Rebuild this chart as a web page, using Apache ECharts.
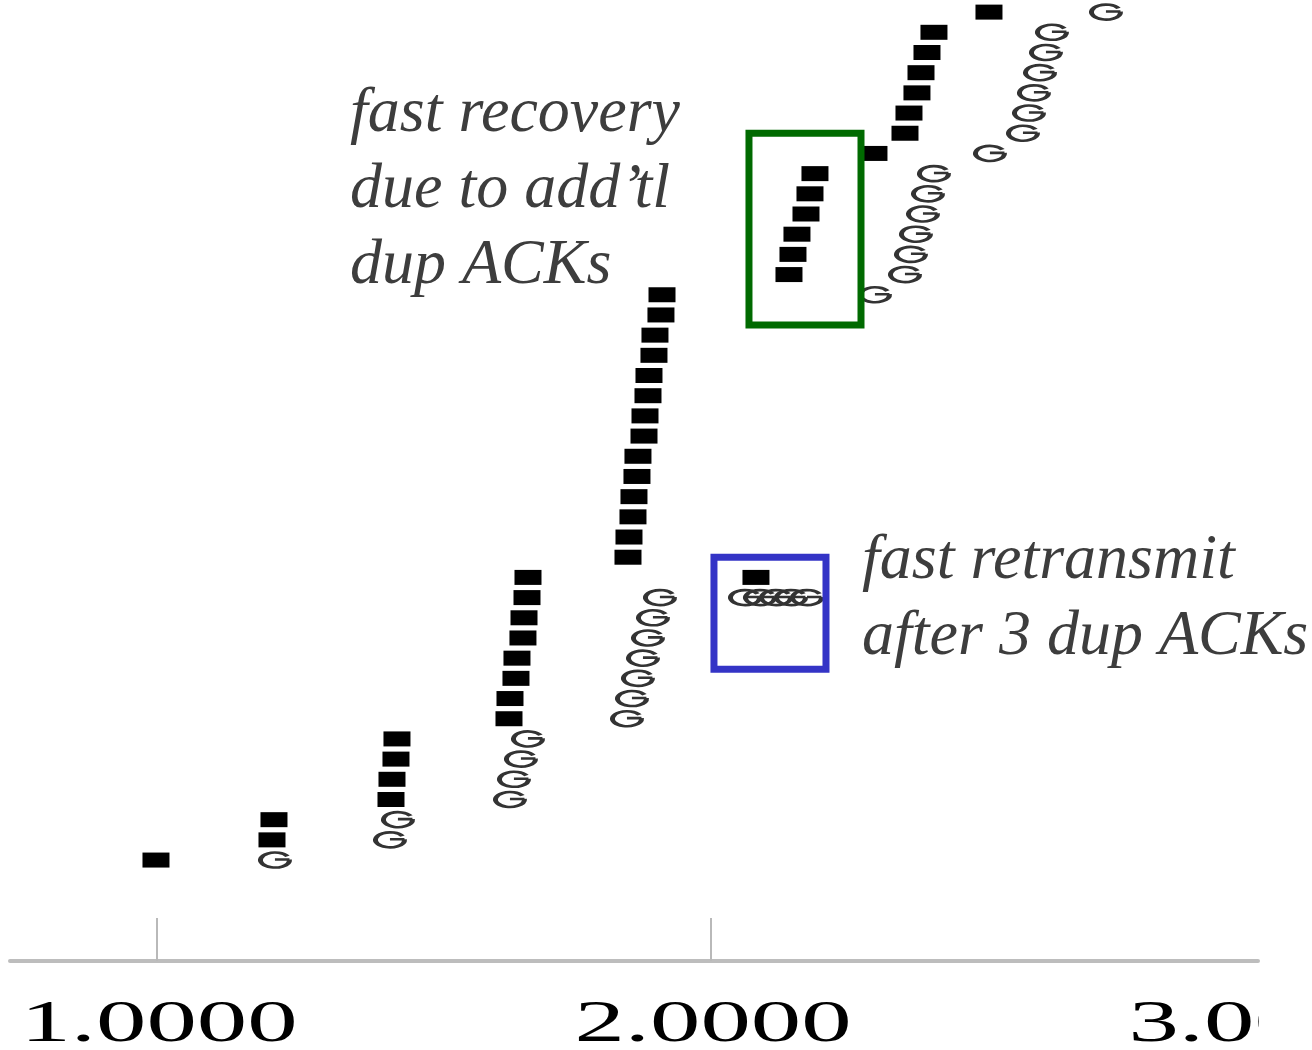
<!DOCTYPE html>
<html>
<head>
<meta charset="utf-8">
<title>fast retransmit / fast recovery</title>
<script src="https://cdn.jsdelivr.net/npm/echarts@6/dist/echarts.min.js"></script>
<style>
  html, body { margin: 0; padding: 0; background: #fff; }
  #trace { width: 1312px; height: 1050px; }
</style>
</head>
<body>
<div id="trace"></div>
<script>
/* jshint esversion: 6 */

// =====================================================================================================================
// Data segments sent (time in s, sequence number in segments)
let segTime = [
  0.9982,
  1.2076, 1.2112,
  1.4224, 1.4242, 1.4314, 1.4332,
  1.6354, 1.6372, 1.6480, 1.6498, 1.6606, 1.6625, 1.6679, 1.6697,
  1.8502, 1.8520, 1.8592, 1.8610, 1.8664, 1.8682, 1.8791, 1.8809, 1.8863, 1.8881, 1.8971, 1.8989, 1.9097, 1.9116,
  2.0812,
  2.1408, 2.1480, 2.1552, 2.1715, 2.1787, 2.1877,
  2.2942, 2.3502, 2.3574, 2.3718, 2.3791, 2.3899, 2.4025,
  2.5018
];
let segSeq = [
  1,
  2, 3,
  4, 5, 6, 7,
  8, 9, 10, 11, 12, 13, 14, 15,
  16, 17, 18, 19, 20, 21, 22, 23, 24, 25, 26, 27, 28, 29,
  15,
  30, 31, 32, 33, 34, 35,
  36, 37, 38, 39, 40, 41, 42,
  43
];

// ACKs received
let ackTime = [
  1.2130,
  1.4206, 1.4350,
  1.6372, 1.6444, 1.6570, 1.6697,
  1.8484, 1.8574, 1.8682, 1.8773, 1.8863, 1.8953, 1.9079,
  2.0614, 2.0884, 2.1173, 2.1444, 2.1733,
  2.2960,
  2.3502, 2.3610, 2.3700, 2.3827, 2.3917, 2.4025,
  2.5036, 2.5632, 2.5740, 2.5830, 2.5939, 2.6047, 2.6155,
  2.7130
];
let ackSeq = [
  1,
  2, 3,
  4, 5, 6, 7,
  8, 9, 10, 11, 12, 13, 14,
  14, 14, 14, 14, 14,
  29,
  30, 31, 32, 33, 34, 35,
  36, 37, 38, 39, 40, 41, 42,
  43
];

let xTicks = [1, 2, 3];

// zones highlighted (time, seq corners)
let retransmitZone = [[2.0054, 16.0], [2.2076, 10.45]];
let recoveryZone = [[2.0686, 37.0], [2.2708, 27.5]];

// =====================================================================================================================
// ack glyph : ring with a bar from the centre to the right
let ackSymbol = 'path://M29 5 A15 7 0 1 0 31 8 M16 8 L31 8';

let domTrace = document.getElementById('trace');
let chartTrace = echarts.init(domTrace);
let optionTrace = {
  animation: false,
  backgroundColor: '#fff',
  grid: {
    left: 10,
    right: 54,
    top: 0,
    bottom: 89,
    containLabel: false,
    outerBoundsMode: 'none'
  },
  xAxis: {
    type: 'value',
    min: 0.7347,
    max: 2.9874,
    splitLine: {show: false},
    axisLine: {
      show: true,
      onZero: false,
      lineStyle: {color: '#bdbdbd', width: 4}
    },
    axisTick: {
      show: true,
      inside: true,
      length: 43,
      customValues: [1, 2],
      lineStyle: {color: '#b9b9b9', width: 2}
    },
    axisLabel: {show: false}
  },
  yAxis: {
    type: 'value',
    min: -4,
    max: 43.6,
    show: false
  },
  series: [
    {
      name: 'data',
      type: 'scatter',
      clip: false,
      symbol: 'rect',
      symbolSize: [27, 15],
      itemStyle: {color: '#000', opacity: 1},
      data: segTime.map(function (t, i) { return [t, segSeq[i]]; })
    },
    {
      name: 'ack',
      type: 'scatter',
      clip: false,
      symbol: ackSymbol,
      symbolSize: [29, 15],
      itemStyle: {
        color: 'rgba(255,255,255,0)',
        borderColor: '#333',
        borderWidth: 3.6,
        opacity: 1
      },
      data: ackTime.map(function (t, i) { return [t, ackSeq[i]]; })
    }
  ]
};
chartTrace.setOption(optionTrace);

// =====================================================================================================================
// Annotations (boxes, text, stretched tick labels)
function toPx(p) {
  'use strict';
  return chartTrace.convertToPixel({gridIndex: 0}, p);
}

function zoneRect(zone, color) {
  'use strict';
  let a = toPx(zone[0]);
  let b = toPx(zone[1]);
  return {
    type: 'rect',
    z: 100,
    shape: {x: a[0], y: a[1], width: b[0] - a[0], height: b[1] - a[1]},
    style: {fill: 'none', stroke: color, lineWidth: 7}
  };
}

function note(x, y, txt) {
  'use strict';
  return {
    type: 'text',
    z: 100,
    x: x,
    y: y,
    style: {
      text: txt,
      fill: '#3d3d3d',
      fontFamily: 'Liberation Serif',
      fontStyle: 'italic',
      fontSize: 64,
      lineHeight: 76,
      verticalAlign: 'top'
    }
  };
}

let graphics = [
  zoneRect(retransmitZone, '#3434c6'),
  zoneRect(recoveryZone, '#006a00'),
  note(350, 76, 'fast recovery\ndue to add\u2019tl\ndup ACKs'),
  note(862, 523, 'fast retransmit\nafter 3 dup ACKs')
];

let axisY = toPx([xTicks[0], -4])[1];
xTicks.forEach(function (v) {
  graphics.push({
    type: 'text',
    z: 50,
    x: toPx([v, 0])[0] + 2,
    y: axisY + 64,
    scaleX: 1.68,
    style: {
      text: v.toFixed(4),
      fill: '#000',
      fontFamily: 'Liberation Serif',
      fontSize: 60,
      align: 'center',
      verticalAlign: 'middle'
    }
  });
});

// right edge of the original is cropped
graphics.push({
  type: 'rect',
  z: 60,
  shape: {x: toPx([2.9874, 0])[0] + 1, y: axisY + 10, width: 200, height: 200},
  style: {fill: '#fff'}
});

chartTrace.setOption({graphic: graphics});
</script>
</body>
</html>
